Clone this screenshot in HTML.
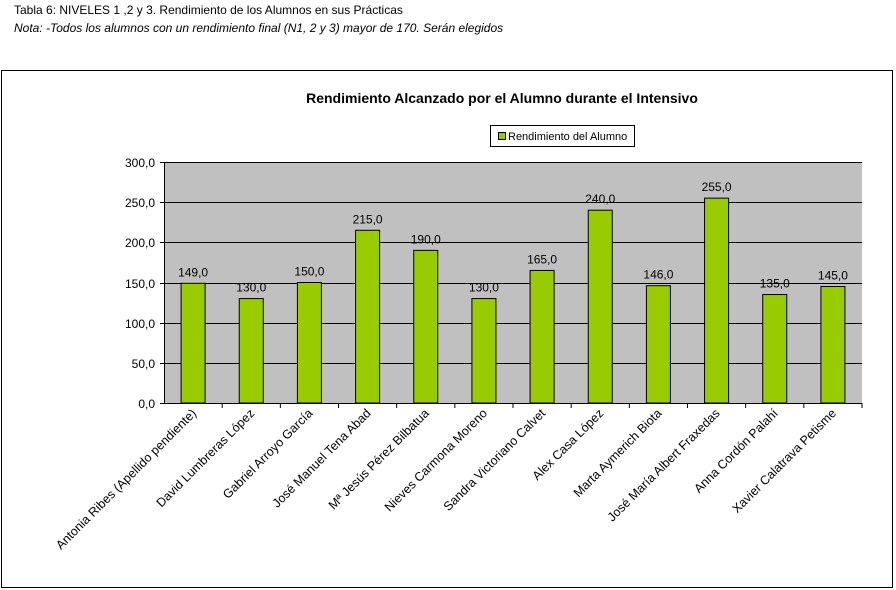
<!DOCTYPE html>
<html><head><meta charset="utf-8"><style>
body{margin:0;background:#fff;width:896px;height:590px;overflow:hidden;font-family:"Liberation Sans",sans-serif}
.t{position:absolute;left:14px;font-size:12px;color:#000}
</style></head><body>
<div class="t" style="top:3px">Tabla 6: NIVELES 1 ,2 y 3. Rendimiento de los Alumnos en sus Prácticas</div>
<div class="t" style="top:21px;font-style:italic">Nota: -Todos los alumnos con un rendimiento final (N1, 2 y 3) mayor de 170. Serán elegidos</div>
<svg width="896" height="590" style="position:absolute;left:0;top:0" font-family="Liberation Sans, sans-serif">
<rect x="1.5" y="70.5" width="891" height="517" fill="#fff" stroke="#000"/>
<text x="502" y="103" text-anchor="middle" font-size="14" font-weight="bold">Rendimiento Alcanzado por el Alumno durante el Intensivo</text>
<rect x="490.5" y="125.5" width="144" height="21" fill="#fff" stroke="#000"/>
<rect x="498.5" y="132.5" width="7" height="7" fill="#99cc00" stroke="#000"/>
<text x="508" y="140" font-size="11">Rendimiento del Alumno</text>
<rect x="164" y="162" width="698" height="241" fill="#c0c0c0"/>
<g stroke="#000" stroke-width="1">
<line x1="160" y1="162.5" x2="862" y2="162.5"/>
<line x1="160" y1="202.5" x2="862" y2="202.5"/>
<line x1="160" y1="242.5" x2="862" y2="242.5"/>
<line x1="160" y1="283.5" x2="862" y2="283.5"/>
<line x1="160" y1="323.5" x2="862" y2="323.5"/>
<line x1="160" y1="363.5" x2="862" y2="363.5"/>
<line x1="160" y1="403.5" x2="862" y2="403.5"/>
<line x1="164.5" y1="162" x2="164.5" y2="403"/>
</g>
<g font-size="12" text-anchor="end">
<text x="155" y="167">300,0</text><text x="155" y="207">250,0</text><text x="155" y="247">200,0</text>
<text x="155" y="288">150,0</text><text x="155" y="328">100,0</text><text x="155" y="368">50,0</text><text x="155" y="408">0,0</text>
</g>
<g id="bars"></g>
</svg>
<script>
var v=[149,130,150,215,190,130,165,240,146,255,135,145];
var n=["Antonia Ribes (Apellido pendiente)","David Lumbreras López","Gabriel Arroyo García","José Manuel Tena Abad","Mª Jesús Pérez Bilbatua","Nieves Carmona Moreno","Sandra Victoriano Calvet","Alex Casa López","Marta Aymerich Biota","José María Albert Fraxedas","Anna Cordón Palahí","Xavier Calatrava Petisme"];
var g=document.getElementById("bars"),s="",w=698/12;
for(var i=0;i<12;i++){var cx=164+w*i+w/2,h=v[i]*241/300,y=403-h;
s+='<rect x="'+(cx-12)+'" y="'+y+'" width="24" height="'+h+'" fill="#99cc00" stroke="#000"/>';
s+='<text x="'+cx+'" y="'+(y-7)+'" font-size="12" text-anchor="middle">'+v[i].toFixed(1).replace(".",",")+'</text>';
var tx=164+w*(i+1);s+='<line x1="'+tx+'" y1="403" x2="'+tx+'" y2="408" stroke="#000"/>';
s+='<text transform="translate('+(cx+4)+',414) rotate(-45)" font-size="12.5" text-anchor="end">'+n[i]+'</text>';}
g.innerHTML=s;
</script>
</body></html>
